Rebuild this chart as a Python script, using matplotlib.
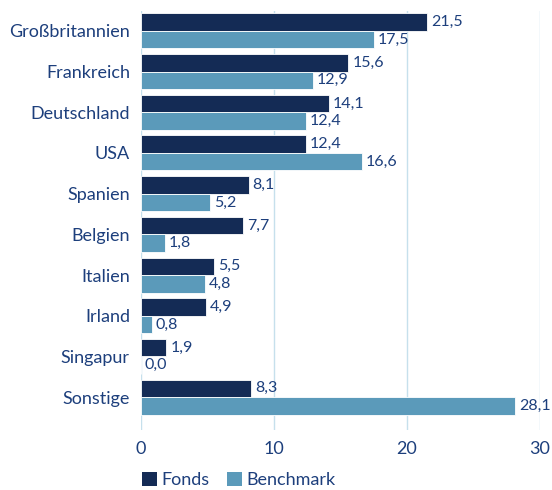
import numpy as np
import matplotlib.pyplot as plt
from matplotlib.patches import Patch

categories = ["Großbritannien", "Frankreich", "Deutschland", "USA", "Spanien",
              "Belgien", "Italien", "Irland", "Singapur", "Sonstige"]
fonds = [21.5, 15.6, 14.1, 12.4, 8.1, 7.7, 5.5, 4.9, 1.9, 8.3]
benchmark = [17.5, 12.9, 12.4, 16.6, 5.2, 1.8, 4.8, 0.8, 0.0, 28.1]

c_fonds = "#142b55"
c_bench = "#5b9aba"
c_text = "#1d3f7c"
c_grid = "#c6e0ec"

plt.rcParams['font.family'] = ['Lato', 'DejaVu Sans']

fig = plt.figure(figsize=(5.52, 4.9), dpi=100)
ax = fig.add_axes([141/552, 60/490, 399/552, 419/490])

y = np.arange(len(categories))
h = 0.43
b1 = ax.barh(y - h/2, fonds, height=h, color=c_fonds, edgecolor="white", linewidth=0.6)
b2 = ax.barh(y + h/2, benchmark, height=h, color=c_bench, edgecolor="white", linewidth=0.6)

for bars, vals in ((b1, fonds), (b2, benchmark)):
    for r, v in zip(bars, vals):
        ax.text(v + 0.3, r.get_y() + r.get_height()/2, f"{v:.1f}".replace(".", ","),
                va="center", ha="left", fontsize=11.5, color=c_text)

ax.set_xlim(0, 30)
ax.set_ylim(9 + 0.81, -0.49)
ax.set_xticks([0, 10, 20, 30])
ax.set_yticks(y)
ax.set_yticklabels(categories)
ax.tick_params(axis="both", length=0, colors=c_text, labelsize=13)
ax.tick_params(axis="x", pad=8)
ax.tick_params(axis="y", pad=8)
for s in ax.spines.values():
    s.set_visible(False)
ax.grid(axis="x", color=c_grid, linewidth=1)
ax.set_axisbelow(True)

handles = [Patch(facecolor=c_fonds, label="Fonds"), Patch(facecolor=c_bench, label="Benchmark")]
fig.legend(handles=handles, loc="lower left", bbox_to_anchor=(126/552, -0.03), ncol=2,
           frameon=False, fontsize=13, handlelength=0.8, handleheight=0.8,
           handletextpad=0.25, columnspacing=1.0, labelcolor=c_text)

fig.savefig("out.png", dpi=100)
